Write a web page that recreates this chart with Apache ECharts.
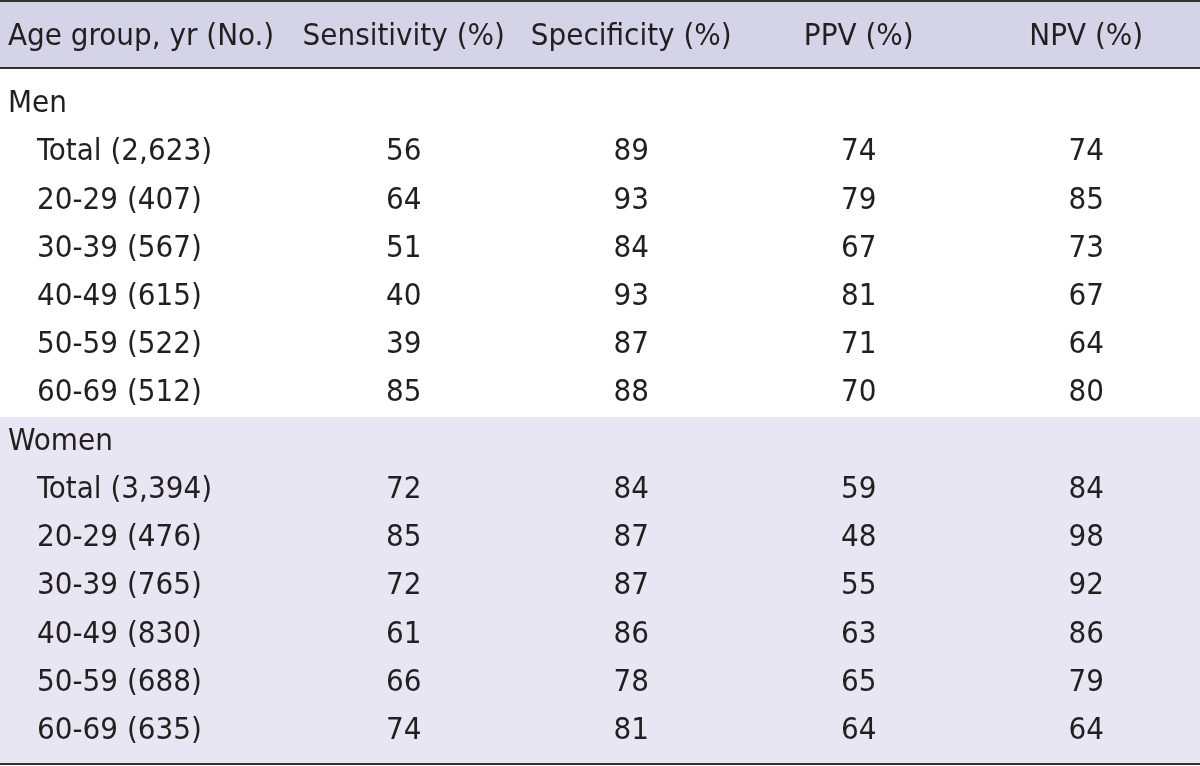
<!DOCTYPE html>
<html>
<head>
<meta charset="utf-8">
<script src="https://cdn.jsdelivr.net/npm/echarts@6/dist/echarts.min.js"></script>
<style>html,body{margin:0;padding:0;background:#fff;}#c{width:1200px;height:766px;}</style>
</head>
<body>
<div id="c"></div>
<script>
const rowLabels = ['Men','Total (2,623)','20-29 (407)','30-39 (567)','40-49 (615)','50-59 (522)','60-69 (512)',
                   'Women','Total (3,394)','20-29 (476)','30-39 (765)','40-49 (830)','50-59 (688)','60-69 (635)'];
const groupRows = ['Men','Women'];
const columns = ['Sensitivity (%)','Specificity (%)','PPV (%)','NPV (%)'];
const stubHeader = 'Age group, yr (No.)';
const sensitivity = [null,56,64,51,40,39,85,null,72,85,72,61,66,74];
const specificity = [null,89,93,84,93,87,88,null,84,87,87,86,78,81];
const ppv         = [null,74,79,67,81,71,70,null,59,48,55,63,65,64];
const npv         = [null,74,85,73,67,64,80,null,84,98,92,86,79,64];
const seriesValues = [sensitivity, specificity, ppv, npv];

const FONT = '"DejaVu Sans Condensed","Liberation Sans Narrow","Liberation Sans",sans-serif';
const FS = 31;
const TXT = '#231f20';

const chart = echarts.init(document.getElementById('c'));
const series = columns.map((col, ci) => ({
  type: 'scatter',
  symbol: 'circle',
  symbolSize: 1,
  silent: true,
  itemStyle: { color: 'rgba(0,0,0,0)', opacity: 1 },
  data: rowLabels.map((r, ri) => seriesValues[ci][ri] == null ? null : [col, r, seriesValues[ci][ri]]).filter(d => d),
  label: {
    show: true, position: 'inside', opacity: 1,
    formatter: p => String(p.value[2]),
    fontFamily: FONT, fontSize: FS, color: TXT
  },
  z: 5
}));

chart.setOption({
  animation: false,
  backgroundColor: '#ffffff',
  grid: { left: 290, right: 0, top: 80, bottom: 11 },
  xAxis: {
    type: 'category', data: columns, position: 'top',
    axisLine: { show: false }, axisTick: { show: false }, splitLine: { show: false },
    axisLabel: { fontFamily: FONT, fontSize: FS, color: TXT, margin: 43, verticalAlign: 'middle', interval: 0 }
  },
  yAxis: {
    type: 'category', data: rowLabels, inverse: true,
    axisLine: { show: false }, axisTick: { show: false }, splitLine: { show: false },
    axisLabel: {
      interval: 0, align: 'left', margin: 282,
      formatter: v => groupRows.indexOf(v) >= 0 ? '{g|' + v + '}' : '{s|' + v + '}',
      rich: {
        g: { fontFamily: FONT, fontSize: FS, color: TXT },
        s: { fontFamily: FONT, fontSize: FS, color: TXT, padding: [0, 0, 0, 29] }
      }
    }
  },
  graphic: [
    { type: 'rect', z: -10, shape: { x: 0, y: 2, width: 1200, height: 66 }, style: { fill: '#d4d3e8' } },
    { type: 'rect', z: -10, shape: { x: 0, y: 417, width: 1200, height: 346 }, style: { fill: '#e7e6f2' } },
    { type: 'rect', z: -5, shape: { x: 0, y: 0, width: 1200, height: 2 }, style: { fill: '#333333' } },
    { type: 'rect', z: -5, shape: { x: 0, y: 67, width: 1200, height: 2 }, style: { fill: '#333333' } },
    { type: 'rect', z: -5, shape: { x: 0, y: 763, width: 1200, height: 2 }, style: { fill: '#333333' } },
    { type: 'text', z: 10, x: 8, y: 37, style: { text: stubHeader, fontFamily: FONT, fontSize: FS, fill: TXT, verticalAlign: 'middle', align: 'left' } }
  ],
  series: series
});
</script>
</body>
</html>
